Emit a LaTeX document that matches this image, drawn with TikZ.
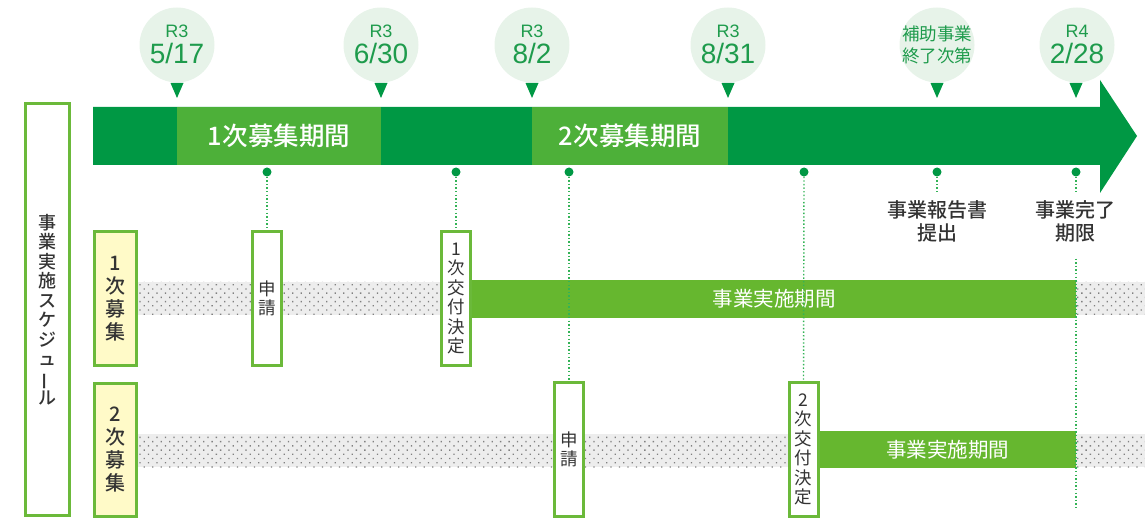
\documentclass[tikz,border=0pt]{standalone}
\usepackage{fontspec}
\usepackage{graphicx}
\setmainfont{Noto Sans CJK JP}
\newfontfamily\jpm{Noto Sans CJK JP Medium}
\newfontfamily\latin{Liberation Sans}
\usetikzlibrary{patterns.meta}
\definecolor{dkgreen}{HTML}{009844}
\definecolor{ltgreen}{HTML}{4DB039}
\definecolor{bargreen}{HTML}{66B72F}
\definecolor{boxgreen}{HTML}{6BB93A}
\definecolor{bubblec}{HTML}{E7F3E9}
\definecolor{datecol}{HTML}{1E9B4C}
\definecolor{txt}{HTML}{333333}
\definecolor{yel}{HTML}{FFFAC8}
\definecolor{dotline}{HTML}{33B356}
\definecolor{bandbg}{HTML}{EDEDED}
\begin{document}
\begin{tikzpicture}[x=1pt,y=-1pt,
  bubble/.style={circle, fill=bubblec, minimum size=75pt, inner sep=0pt},
  rtxt/.style={font=\latin\fontsize{18}{18}\selectfont, text=datecol, inner sep=0pt},
  dtxt/.style={font=\latin\fontsize{28}{28}\selectfont, text=datecol, inner sep=0pt},
  jtxt/.style={font=\fontsize{17.5}{22}\selectfont, text=datecol, inner sep=0pt, align=center},
  pin/.style={circle, fill=dkgreen, minimum size=9pt, inner sep=0pt},
  lead/.style={draw=dotline, line width=1.4pt, dash pattern=on 1.4pt off 2.2pt},
  vbox/.style={draw=boxgreen, line width=3pt, fill=white, minimum width=29pt, minimum height=134pt, inner sep=0pt, text=txt, align=center, font=\fontsize{17.5}{19.5}\selectfont},
  ybox/.style={draw=boxgreen, line width=3pt, fill=yel, minimum width=42pt, inner sep=0pt, text=txt, align=center, font=\jpm\fontsize{20}{23}\selectfont},
  head/.style={text=white, font=\jpm\fontsize{25.5}{25.5}\selectfont, inner sep=0pt},
  bar/.style={fill=bargreen, text=white, font=\fontsize{20.5}{20.5}\selectfont},
  note/.style={text=txt, font=\jpm\fontsize{20}{23}\selectfont, align=center, inner sep=0pt},
  band/.style={fill=bandbg, postaction={pattern={Dots[angle=45,distance=6pt,radius=0.9pt]}, pattern color=gray}}
]
\useasboundingbox (0,0) rectangle (1145,518);

% bubbles
\node[bubble] (c1) at (177,45) {};
\node[bubble] (c2) at (381,45) {};
\node[bubble] (c3) at (532,45) {};
\node[bubble] (c4) at (728,45) {};
\node[bubble] (c5) at (937,45) {};
\node[bubble] (c6) at (1077,45) {};
\node[rtxt] (r1) at (177,31) {R3};
\node[dtxt] (d1) at (177,53) {5/17};
\node[rtxt] (r2) at (381,31) {R3};
\node[dtxt] (d2) at (381,53) {6/30};
\node[rtxt] (r3) at (532,31) {R3};
\node[dtxt] (d3) at (532,53) {8/2};
\node[rtxt] (r4) at (728,31) {R3};
\node[dtxt] (d4) at (728,53) {8/31};
\node[jtxt] (j5) at (937,45) {補助事業\\終了次第};
\node[rtxt] (r6) at (1077,31) {R4};
\node[dtxt] (d6) at (1077,53) {2/28};
\foreach \x in {177,381,532,728,937,1076}
  \fill[dkgreen] (\x-6.5,83) -- (\x+6.5,83) -- (\x,98) -- cycle;

% main arrow
\fill[dkgreen] (93,107) -- (1100,107) -- (1100,80) -- (1137,136) -- (1100,193) -- (1100,165) -- (93,165) -- cycle;
\fill[ltgreen] (177,107) rectangle (381,165);
\fill[ltgreen] (532,107) rectangle (728,165);
\node[head] (h1) at (279,136) {1次募集期間};
\node[head] (h2) at (630,136) {2次募集期間};

% bands
\fill[band] (138,282) rectangle (1145,315);
\fill[band] (138,434) rectangle (1145,467);

% left label box
\node[draw=boxgreen, line width=3pt, fill=white, minimum width=44pt, minimum height=412pt, inner sep=0pt, text=txt, align=center, font=\jpm\fontsize{18}{19.5}\selectfont] (lb) at (47.5,309.5)
  {事\\業\\実\\施\\ス\\ケ\\ジ\\ュ\\\rotatebox[origin=c]{90}{ー}\\ル};

% row labels
\node[ybox, minimum height=134pt] (y1) at (115.5,298.5) {1\\次\\募\\集};
\node[ybox, minimum height=133pt] (y2) at (115.5,449.5) {2\\次\\募\\集};

% implementation bars
\node[bar, minimum width=604pt, minimum height=38pt, inner sep=0pt] (i1) at (774,299) {事業実施期間};
\node[bar, minimum width=257pt, minimum height=37pt, inner sep=0pt] (i2) at (947.5,449.5) {事業実施期間};

% boxes
\node[vbox] (a1) at (267,298.5) {申\\請};
\node[vbox] (a2) at (456,298.5) {1\\次\\交\\付\\決\\定};
\node[vbox] (a3) at (569,449.5) {申\\請};
\node[vbox] (a4) at (803.5,449.5) {2\\次\\交\\付\\決\\定};

% pins
\node[pin] (p1) at (267,172) {};
\node[pin] (p2) at (456,172) {};
\node[pin] (p3) at (569,172) {};
\node[pin] (p4) at (804,172) {};
\node[pin] (p5) at (937,172) {};
\node[pin] (p6) at (1076,172) {};

% notes
\node[note] (t5) at (937,221) {事業報告書\\提出};
\node[note] (t6) at (1075,221.5) {事業完了\\期限};
\coordinate (e6) at (1076,510);

% leads
\draw[lead] (p1.south) -- (a1.north);
\draw[lead] (p2.south) -- (a2.north);
\draw[lead] (p3.south) -- (a3.north);
\draw[lead] (p4.south) -- (a4.north);
\draw[lead, shorten >=8pt] (p5.south) -- (t5.north);
\draw[lead, shorten >=8pt] (p6.south) -- (p6.south |- t6.north);
\draw[lead, shorten <=16pt] (p6 |- t6.south) -- (e6);
\end{tikzpicture}
\end{document}
